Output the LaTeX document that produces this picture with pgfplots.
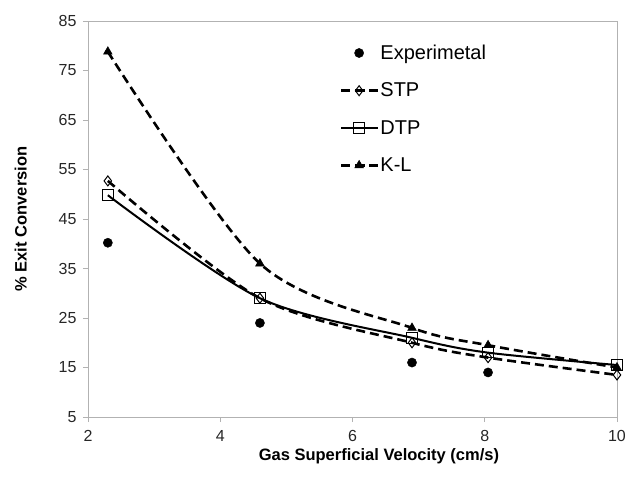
\documentclass[border=0pt]{standalone}
\usepackage{pgfplots}
\pgfplotsset{compat=1.18}
\usepackage{fontspec}
\setmainfont{Liberation Sans}
\pgfplotsset{
  mylegline/.style={legend image code/.code={\draw[##1,mark repeat=2,mark phase=2] plot coordinates {(0pt,0pt) (18pt,0pt) (36pt,0pt)};}},
  mylegmark/.style={legend image code/.code={\draw[##1] plot coordinates {(18pt,0pt)};}},
}
\begin{document}
\begin{tikzpicture}[x=1pt,y=1pt]
\path[use as bounding box] (-88,-66) rectangle (539,417);
\begin{axis}[
  at={(0,0)}, anchor=south west,
  scale only axis, width=529pt, height=396pt,
  xmin=2, xmax=10, ymin=5, ymax=85,
  xtick={2,4,...,10}, ytick={5,15,...,85},
  axis line style={gray!60, line width=0.9pt},
  tick style={gray!60, line width=0.9pt},
  tick align=outside, major tick length=5pt,
  xtick pos=bottom, ytick pos=left,
  /pgf/number format/assume math mode=true,
  tick label style={font=\fontsize{16}{18}\selectfont, text=black!85},
  xticklabel style={yshift=-5pt},
  yticklabel style={xshift=-3pt},
  label style={font=\bfseries\fontsize{16.5}{18}\selectfont},
  xlabel={Gas Superficial Velocity (cm/s)},
  ylabel={\% Exit Conversion},
  xlabel style={at={(axis description cs:0.55,-0.098)}, anchor=center},
  ylabel style={at={(axis description cs:-0.127,0.5)}, anchor=center},
  legend style={draw=none, fill=none, at={(0.470,0.950)}, anchor=north west,
    font=\fontsize{20}{22}\selectfont, row sep=18pt,
    /tikz/every even column/.append style={column sep=3pt}},
  legend cell align=left,
]
\addplot[only marks, mark=*, mark size=4.6pt, black, mylegmark]
  coordinates {(2.3,40.2) (4.6,24) (6.9,16) (8.05,14)};
\addlegendentry{Experimetal}
\addplot[black, line width=2.6pt, dash pattern=on 9pt off 5pt, smooth, tension=0.5,
  mark=diamond, mark size=5pt, mark options={solid, fill=white, line width=1pt}, mylegline]
  coordinates {(2.3,52.7) (4.6,29) (6.9,20) (8.05,17) (10,13.5)};
\addlegendentry{STP}
\addplot[black, line width=2pt, smooth, tension=0.5,
  mark=square, mark size=5.3pt, mark options={solid, fill=white, line width=1pt}, mylegline]
  coordinates {(2.3,49.8) (4.6,29) (6.9,21) (8.05,18) (10,15.5)};
\addlegendentry{DTP}
\addplot[black, line width=2.6pt, dash pattern=on 9pt off 5pt, smooth, tension=0.5,
  mark=triangle*, mark size=5pt, mark options={solid, line width=0.5pt}, mylegline]
  coordinates {(2.3,78.8) (4.6,36) (6.9,23) (8.05,19.5) (10,15)};
\addlegendentry{K-L}
\end{axis}
\end{tikzpicture}
\end{document}
